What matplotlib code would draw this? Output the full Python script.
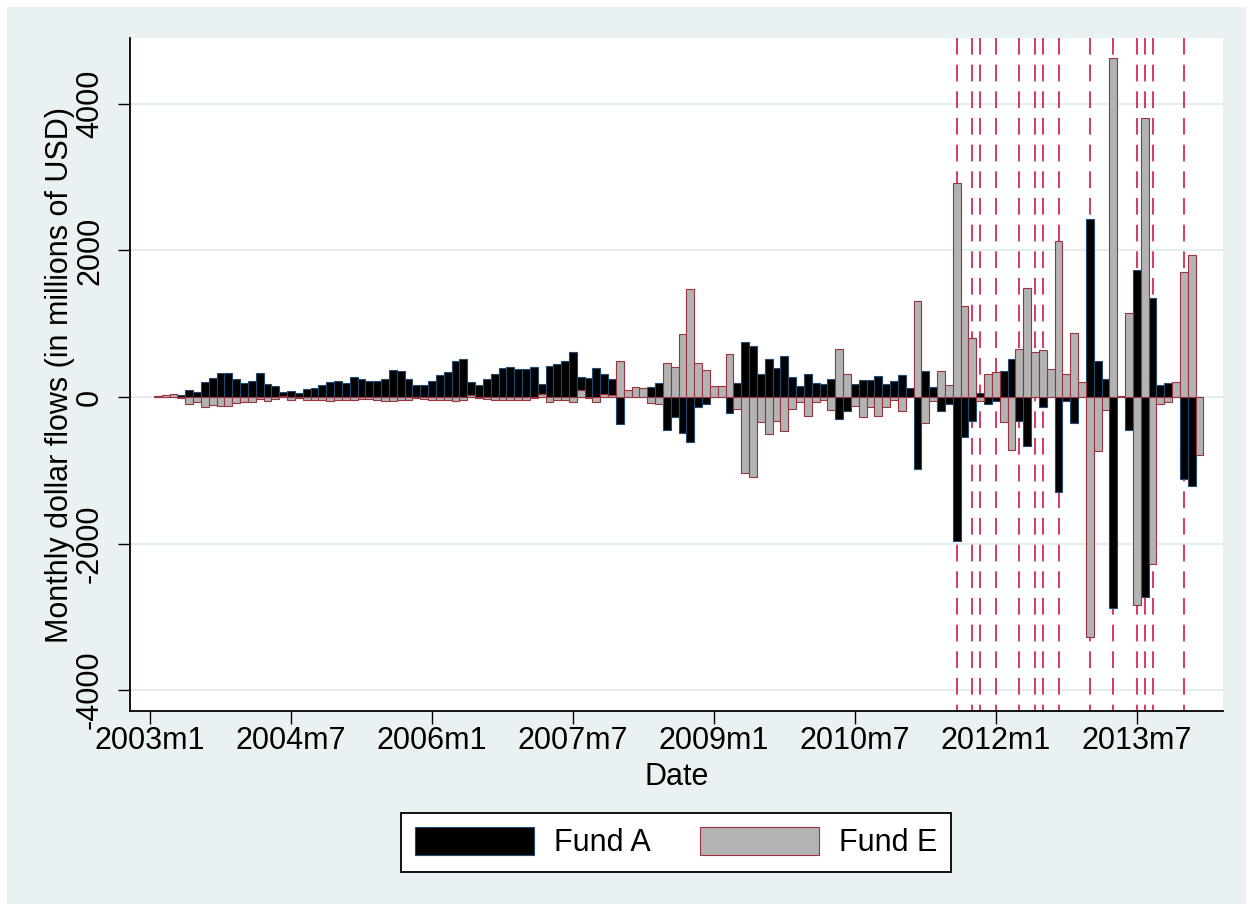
import numpy as np
import pandas as pd
import matplotlib
matplotlib.use("Agg")
import matplotlib.pyplot as plt
import matplotlib.transforms as mtransforms
from matplotlib.patches import Rectangle, Patch

plt.rcParams['font.family'] = ['Liberation Sans', 'DejaVu Sans']

# ------------ Data (monthly, 2003m2 .. 2014m3) ------------
months = pd.period_range('2003-02', '2014-03', freq='M')

fund_a = [0, 0, 0, 23, 95, 68, 205, 260, 330, 330,
          245, 195, 215, 325, 180, 145, 70, 85, 55, 115,
          125, 165, 205, 215, 195, 275, 245, 215, 220, 250,
          370, 350, 240, 170, 160, 215, 295, 340, 485, 525,
          210, 160, 240, 310, 400, 415, 385, 385, 410, 175,
          425, 455, 490, 610, 275, 255, 395, 320, 240, -370,
          20, 0, 0, 130, 185, -450, -275, -495, -610, -140,
          -100, 0, 0, -215, 195, 745, 695, 310, 515, 390,
          565, 270, 150, 310, 190, 175, 245, -300, -190, 175,
          230, 230, 280, 175, 220, 295, 120, -980, 360, 140,
          -190, -90, -1965, -540, -330, 60, -90, -55, 360, 520,
          -325, -665, 0, -135, 0, -1290, -55, -355, 0, 2435,
          485, 250, -2885, 0, -455, 1730, -2725, 1355, 165, 185,
          0, -1120, -1215, 0]

fund_e = [15, 27, 40, -15, -95, -70, -135, -110, -120, -120,
          -80, -65, -70, -25, -50, -25, 15, -40, -20, -35,
          -35, -40, -50, -45, -45, -45, -30, -25, -40, -55,
          -55, -40, -40, -20, -25, -40, -40, -40, -55, -40,
          25, -10, -25, -45, -45, -40, -40, -40, -20, 40,
          -70, -45, -45, -65, 95, -10, -70, 40, 25, 490,
          95, 140, 120, -85, -100, 470, 415, 855, 1470, 470,
          370, 150, 150, 580, -165, -1040, -1095, -345, -505, -325,
          -470, -165, -75, -255, -75, -40, -175, 650, 310, -120,
          -270, -140, -260, -130, -40, -190, 0, 1310, -355, -50,
          360, 160, 2920, 1245, 805, -55, 320, 340, -340, -720,
          650, 1490, 610, 635, 385, 2135, 315, 875, 207, -3275,
          -730, -180, 4630, 20, 1140, -2835, 3810, -2275, -100, -70,
          200, 1705, 1935, -785]

event_months = ['2011-08', '2011-10', '2011-11', '2012-01', '2012-04', '2012-06',
                '2012-07', '2012-09', '2013-01', '2013-04', '2013-07', '2013-08',
                '2013-09', '2014-01']

tick_months = ['2003-01', '2004-07', '2006-01', '2007-07', '2009-01',
               '2010-07', '2012-01', '2013-07']
tick_labels = ['2003m1', '2004m7', '2006m1', '2007m7', '2009m1',
               '2010m7', '2012m1', '2013m7']
y_ticks = [-4000, -2000, 0, 2000, 4000]


def month_index(p):
    p = pd.Period(p, freq='M')
    return (p.year - 2003) * 12 + p.month - 1


x = np.array([month_index(p) for p in months])

# ------------ Figure ------------
W, H = 1253, 911
fig = plt.figure(figsize=(W / 100, H / 100), dpi=100, facecolor='white')
fig.patches.append(Rectangle((7 / W, 7 / H), 1239 / W, 897 / H, transform=fig.transFigure,
                             facecolor='#e9f1f3', edgecolor='none', zorder=-10))

ax = fig.add_axes([130 / W, 1 - 711 / H, 1093 / W, 673 / H])
ax.set_facecolor('white')

col_a, edge_a = 'black', '#1f4a72'
col_e, edge_e = '#b3b3b3', '#9c3440'

# event lines (drawn top-down, under the bars)
trans = mtransforms.blended_transform_factory(ax.transData, ax.transAxes)
for em in event_months:
    xm = month_index(em)
    ax.plot([xm, xm], [1, 0], transform=trans, color='#d3174a', lw=1.2,
            linestyle=(0, (10, 6)), zorder=1.5)

ax.bar(x, fund_a, width=1.0, color=col_a, edgecolor=edge_a, linewidth=0.8, zorder=2)
ax.bar(x, fund_e, width=1.0, color=col_e, edgecolor=edge_e, linewidth=0.8, zorder=3)

ax.set_xlim(-2.55, 137.0)
ax.set_ylim(-4284, 4898)

ax.set_xticks([month_index(t) for t in tick_months])
ax.set_xticklabels(tick_labels)
ax.set_yticks(y_ticks)
ax.set_yticklabels([str(v) for v in y_ticks], rotation=90, va='center')

ax.grid(axis='y', color='#e1eaed', lw=1.3)
ax.set_axisbelow(True)

for s in ['top', 'right']:
    ax.spines[s].set_visible(False)
for s in ['left', 'bottom']:
    ax.spines[s].set_linewidth(1.3)
    ax.spines[s].set_color('black')

ax.tick_params(axis='x', length=9, width=1, pad=2, labelsize=22)
ax.tick_params(axis='y', length=9, width=1, pad=9, labelsize=22)

ax.set_xlabel('Date', fontsize=22)
ax.xaxis.label.set_va('center')
ax.xaxis.set_label_coords(0.5, -0.098)
ax.set_ylabel('Monthly dollar flows (in millions of USD)', fontsize=22)
ax.yaxis.label.set_va('center')
ax.yaxis.set_label_coords(-0.064, 0.5)

handles = [Patch(facecolor=col_a, edgecolor=edge_a, lw=0.8, label='Fund A'),
           Patch(facecolor=col_e, edgecolor=edge_e, lw=0.8, label='Fund E')]
leg = fig.legend(handles=handles, loc='center', bbox_to_anchor=(676 / W, 1 - 842.5 / H),
                 ncol=2, fontsize=22, frameon=True, fancybox=False, shadow=False,
                 handlelength=3.9, handleheight=1.05, handletextpad=0.65,
                 columnspacing=1.6, borderpad=0.45, borderaxespad=0)
leg.get_frame().set_edgecolor('black')
leg.get_frame().set_linewidth(1.3)
leg.get_frame().set_facecolor('white')
leg.get_frame().set_alpha(1)

fig.savefig('out.png', dpi=100, facecolor=fig.get_facecolor())
